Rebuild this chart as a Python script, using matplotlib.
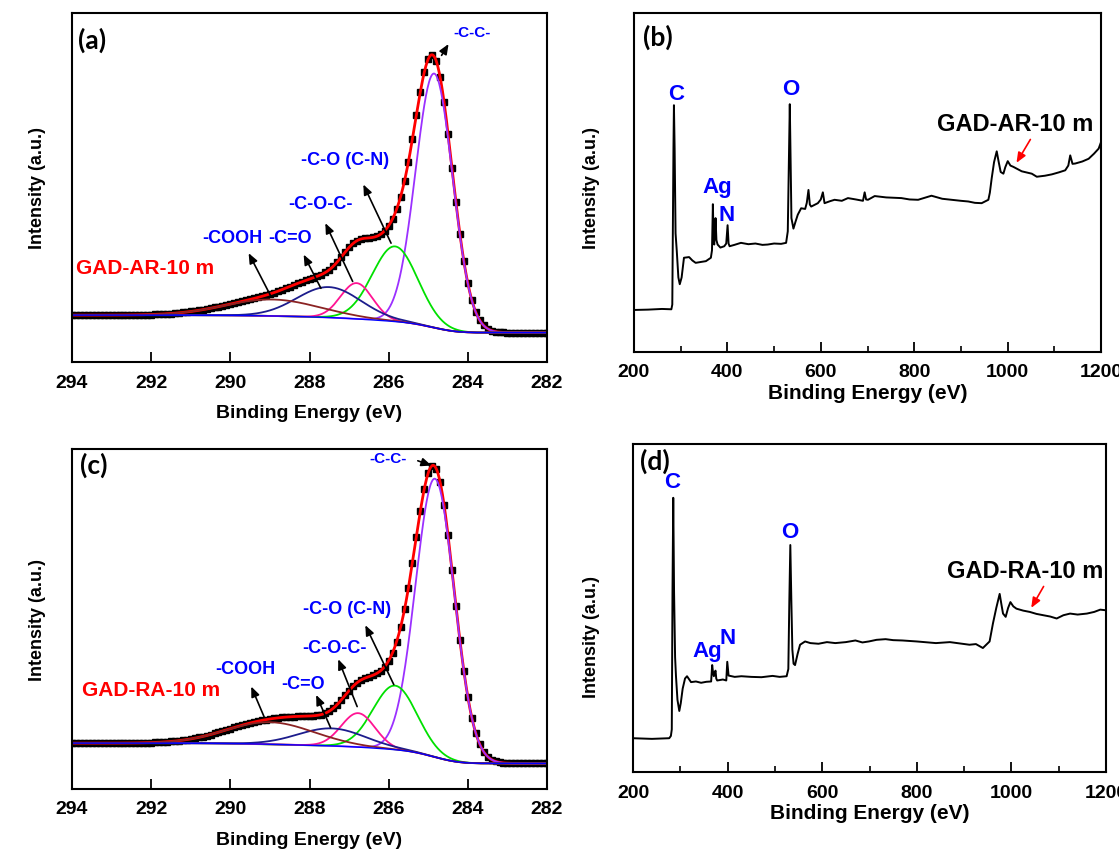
import numpy as np
import matplotlib.pyplot as plt
from matplotlib.ticker import MultipleLocator

plt.rcParams['font.family'] = ['Liberation Sans', 'DejaVu Sans']
plt.rcParams['font.weight'] = 'bold'
plt.rcParams['axes.labelweight'] = 'bold'

W, H = 1119, 850

# C 1s fit components: -C-C-, -C-O (C-N), -C-O-C-, -C=O, -COOH
comp_colors = ['#9b30ff', '#00e000', '#ff1493', '#1c1c8c', '#8b2323']
ar_center = [284.85, 285.84, 286.81, 287.51, 288.94]
ar_height = [71, 21, 10, 8.5, 4.6]
ar_fwhm = [1.1, 1.35, 0.95, 1.9, 2.8]
ar_bg = [15.6, 10.7]   # background at 294 eV / 282 eV

ra_center = [284.83, 285.84, 286.77, 287.44, 289.0]
ra_height = [79.5, 18.3, 9.7, 5.0, 6.3]
ra_fwhm = [1.15, 1.3, 1.0, 2.0, 2.6]
ra_bg = [16.0, 10.2]

# survey spectra
ar_sx = [200, 230, 260, 280, 282, 284.5, 285.5, 287, 289, 291.6, 295, 298, 302, 307, 318, 325, 332,
         345, 354, 364.6, 367, 368.9, 370.5, 371.8, 373.5, 374.6, 376.5, 379, 385, 393.3, 397.5,
         400.4, 402.5, 404.7, 415, 429, 445, 460, 475, 486.3, 500, 515, 525.7, 529.3, 531.5, 533.6,
         535.5, 537.1, 541.4, 546, 550.7, 557.9, 566.5, 570, 573.6, 576.5, 579.4, 593.7, 600, 604.4,
         608, 620, 629.5, 645, 658.1, 675, 690.3, 693.9, 697, 701, 715.4, 740, 772.6, 790, 808.4,
         837, 860, 880, 900, 915.8, 930, 944.4, 958.8, 962, 965.9, 971, 976.7, 981, 985.2, 991, 995,
         1000.3, 1006, 1012.5, 1030.3, 1051.8, 1062.5, 1080, 1094.7, 1110, 1123.4, 1130, 1134.1,
         1139, 1144.9, 1160, 1173.5, 1185, 1195, 1200]
ar_sy = [12.4, 12.5, 12.7, 12.6, 14, 60, 72.8, 60, 35, 29.8, 22, 20.0, 22, 27.8, 28.0, 27.0, 26.3,
         26.6, 26.8, 27.8, 30, 43.6, 33, 31.7, 36, 39.5, 33, 31.7, 30.8, 31.2, 32,
         37.4, 32, 31.2, 31.6, 32.2, 31.8, 32.0, 31.6, 31.7, 32.0, 31.9, 32.2, 35.6, 55, 73.1,
         55, 39.5, 36.4, 38.5, 40.5, 42.4, 42.2, 44, 47.8, 43.5, 42.9, 43.9, 45, 47.1,
         43.9, 44.5, 44.9, 44.6, 45.4, 45.0, 44.6, 47.1, 45, 44.9, 46.0, 45.6, 45.4, 45.0, 44.9,
         46.1, 45.2, 44.9, 44.6, 44.4, 44.0, 43.9, 44.9, 47, 51.2, 56, 59.2, 56, 53.1, 52.6, 54.5,
         56.3, 55, 54.6, 53.3, 52.6, 51.7, 52, 52.4, 53, 53.6, 55, 58.0,
         55.5, 55.6, 56.2, 57.0, 58.5, 60, 61.9]

ra_sx = [200, 240, 276.6, 280.1, 282, 283.5, 285.1, 286.8, 289, 290.8, 294, 297.9, 301, 305, 310,
         314.2, 322.7, 333, 344, 355, 365.2, 367.4, 369.5, 371, 373, 374.5, 376, 378, 390, 397.2,
         399.3, 402.1, 415, 429.1, 450, 471.6, 495, 510, 524.8, 528.4, 530.5, 532.6, 534.8, 536.9,
         539.5, 542.6, 548, 553.2, 563.8, 575, 592.2, 610, 627.7, 650, 670.2, 685, 698.6, 715, 734,
         750, 769.5, 800, 840.4, 870, 911.3, 925, 939.7, 953.9, 961, 968, 975.2, 979, 982.3, 987.9,
         993, 997.9, 1004, 1010.6, 1025, 1039, 1053, 1067.4, 1082, 1095.7, 1110, 1124.1, 1140,
         1159.6, 1175, 1187.9, 1200]
ra_sy = [10.3, 10.1, 10.3, 11.0, 13, 55, 83.6, 55, 35, 29.4, 22, 18.6, 21, 25.4, 28.5,
         29.2, 27.4, 27.6, 27.2, 27.5, 27.6, 32.6, 30, 29.2, 30.5, 30.9, 28.5, 27.9, 28.2, 27.9,
         33.6, 29.4, 29.0, 29.2, 29.0, 28.9, 29.3, 29.0, 29.2, 31.4, 52, 69.2, 52, 37.3,
         33, 32.6, 36, 38.8, 39.8, 39.3, 39.1, 39.6, 39.3, 39.6, 40.1, 39.5, 39.8, 40.3, 40.5,
         40.2, 40.1, 39.8, 39.3, 39.6, 38.8, 39.0, 37.8, 39.8, 45.3, 50, 54.3, 51, 48.3, 47.3,
         50, 51.8, 50.5, 49.8, 49.2, 48.8, 48.2, 47.8, 47.4, 46.8, 47.8, 48.3, 48.0,
         48.3, 48.8, 49.5, 49.3]

fig = plt.figure(figsize=(W/100, H/100), dpi=100)

def box(l, t, r, b, lsize, lpad):
    ax = fig.add_axes([l/W, 1-b/H, (r-l)/W, (b-t)/H])
    for s in ax.spines.values():
        s.set_linewidth(1.5)
    ax.set_yticks([])
    ax.tick_params(axis='x', direction='in', length=7, width=1.3, labelsize=14, pad=9)
    ax.tick_params(axis='x', which='minor', direction='in', length=4, width=1.2)
    ax.set_xlabel('Binding Energy (eV)', fontsize=lsize, fontweight='bold', labelpad=lpad)
    return ax

def c1s(ax, center, height, fwhm, bg_ends):
    e = np.linspace(282, 294, 601)
    peaks = [h*np.exp(-4*np.log(2)*(e-c)**2/w**2) for c, h, w in zip(center, height, fwhm)]
    tot = np.sum(peaks, axis=0)
    bg = bg_ends[1] + (bg_ends[0]-bg_ends[1])*np.cumsum(tot)/tot.sum()
    env = bg + tot
    ax.plot(e[::5], env[::5], 's', color='black', ms=5)
    ax.plot(e, env, color='red', lw=2)
    for p, col in zip(peaks, comp_colors):
        ax.plot(e, bg+p, color=col, lw=1.3)
    ax.plot(e, bg, color='blue', lw=1)
    ax.set_xlim(294, 282)
    ax.xaxis.set_major_locator(MultipleLocator(2))

def arrow(ax, tail, head, color='black'):
    ax.annotate('', xy=head, xytext=tail,
                arrowprops=dict(arrowstyle='-|>,head_length=0.6,head_width=0.25', color=color, lw=1.2))

def lab(ax, x, y, s, size=13, color='blue', ha='center'):
    ax.text(x, y, s, color=color, fontsize=size, ha=ha, va='center', fontweight='bold')

# (a)
ax = box(72, 13, 547, 362, 14, 10)
c1s(ax, ar_center, ar_height, ar_fwhm, ar_bg)
ax.set_ylim(2.5, 100)
lab(ax, 283.9, 94.5, '-C-C-', size=11)
arrow(ax, (284.7, 87.5), (284.45, 92))
lab(ax, 287.09, 58.8, '-C-O (C-N)')
arrow(ax, (285.91, 35), (286.67, 52.8))
lab(ax, 287.72, 46.4, '-C-O-C-')
arrow(ax, (286.88, 24.3), (287.63, 42))
lab(ax, 288.48, 37.1, '-C=O')
arrow(ax, (287.68, 22.4), (288.18, 33.2))
lab(ax, 289.95, 37.1, '-COOH')
arrow(ax, (288.94, 20.1), (289.57, 33.6))
lab(ax, 293.9, 28.5, 'GAD-AR-10 m', size=15, color='red', ha='left')

# (c)
ax = box(72, 449, 547, 789, 14, 10)
c1s(ax, ra_center, ra_height, ra_fwhm, ra_bg)
ax.set_ylim(2.9, 100)
lab(ax, 286.01, 97.2, '-C-C-', size=11)
arrow(ax, (285.33, 96.9), (284.85, 95))
lab(ax, 287.04, 54.3, '-C-O (C-N)')
arrow(ax, (285.84, 32.0), (286.62, 50.4))
lab(ax, 287.37, 42.9, '-C-O-C-')
arrow(ax, (286.77, 25.7), (287.30, 40.7))
lab(ax, 288.16, 32.8, '-C=O')
arrow(ax, (287.44, 19.7), (287.86, 30.5))
lab(ax, 289.63, 37.0, '-COOH')
arrow(ax, (289.12, 22.8), (289.5, 32.9))
lab(ax, 293.75, 31.0, 'GAD-RA-10 m', size=15, color='red', ha='left')

# (b)
ax = box(634, 13, 1101, 352, 15, 2)
ax.plot(ar_sx, ar_sy, color='black', lw=1.4)
ax.set_xlim(200, 1200)
ax.set_ylim(0, 100)
ax.xaxis.set_major_locator(MultipleLocator(200))
ax.xaxis.set_minor_locator(MultipleLocator(100))
lab(ax, 289.5, 76, 'C', size=16)
lab(ax, 379, 48.5, 'Ag', size=16)
lab(ax, 399, 40.3, 'N', size=16)
lab(ax, 535, 77.5, 'O', size=16)
lab(ax, 1016, 67, 'GAD-AR-10 m', size=17, color='black')
arrow(ax, (1051.8, 63.4), (1016, 55.1), color='red')

# (d)
ax = box(633, 444, 1106, 772, 15, 2)
ax.plot(ra_sx, ra_sy, color='black', lw=1.4)
ax.set_xlim(200, 1200)
ax.set_ylim(0, 100)
ax.xaxis.set_major_locator(MultipleLocator(200))
ax.xaxis.set_minor_locator(MultipleLocator(100))
lab(ax, 283.7, 88.3, 'C', size=16)
lab(ax, 531.9, 73, 'O', size=16)
lab(ax, 356.7, 36.8, 'Ag', size=16)
lab(ax, 400.7, 40.8, 'N', size=16)
lab(ax, 1030, 61.0, 'GAD-RA-10 m', size=17, color='black')
arrow(ax, (1071, 57.3), (1039, 49.3), color='red')

# panel letters and y labels
for x, y, s in [(78, 40, '(a)'), (643, 37, '(b)'), (80, 465, '(c)'), (640, 461, '(d)')]:
    fig.text(x/W, 1-y/H, s, fontsize=19, fontweight='bold', family=['Lato', 'DejaVu Sans'],
             ha='left', va='center')
for x, y in [(38, 188), (592, 188), (38, 620), (592, 637)]:
    fig.text(x/W, 1-y/H, 'Intensity (a.u.)', fontsize=13, fontweight='bold', rotation=90,
             ha='center', va='center')

fig.savefig('out.png', dpi=100)
